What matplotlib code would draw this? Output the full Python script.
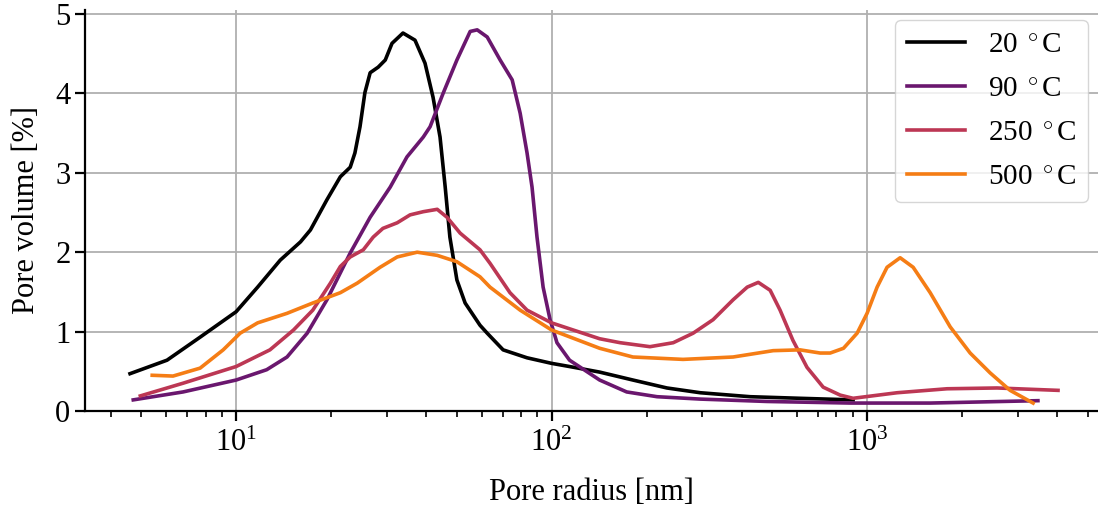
import matplotlib
matplotlib.use("Agg")
import matplotlib.pyplot as plt

plt.rcParams['font.family'] = ['Liberation Serif', 'DejaVu Serif']
plt.rcParams['mathtext.fontset'] = 'custom'
plt.rcParams['mathtext.rm'] = 'Liberation Serif'
plt.rcParams['mathtext.it'] = 'Liberation Serif:italic'
plt.rcParams['font.size'] = 22

# Pore size distributions (radius in nm, volume in %)
r_20 = [4.61, 6.04, 7.69, 10, 11.7, 13.8, 16.0, 17.2, 19.4, 21.4, 23.0, 23.8, 24.7,
        25.6, 26.6, 28.2, 29.7, 31.2, 33.8, 36.9, 39.7, 42.1, 44.3, 46.0, 47.6,
        50.1, 53.2, 59.3, 62.5, 70.2, 83.6, 100, 114, 142, 181, 232, 296, 426,
        613, 903]
v_20 = [0.47, 0.64, 0.93, 1.25, 1.56, 1.90, 2.13, 2.28, 2.66, 2.95, 3.07, 3.25, 3.58,
        4.01, 4.26, 4.33, 4.42, 4.63, 4.76, 4.67, 4.38, 3.95, 3.45, 2.82, 2.19,
        1.65, 1.36, 1.08, 0.98, 0.77, 0.67, 0.60, 0.56, 0.49, 0.39, 0.29, 0.23, 0.18,
        0.16, 0.14]

r_90 = [4.72, 6.79, 10, 12.5, 14.5, 16.8, 19.4, 21.4, 23.0, 26.6, 30.8, 34.8, 39.2,
        41.2, 45.3, 50.1, 55.2, 58.1, 62.5, 68.7, 75.0, 79.5, 83.6, 86.7, 89.9,
        94.0, 98.9, 104, 114, 142, 173, 216, 296, 482, 884, 1585, 3480]
v_90 = [0.14, 0.24, 0.39, 0.52, 0.68, 0.98, 1.40, 1.74, 1.99, 2.44, 2.82, 3.20, 3.45,
        3.58, 4.00, 4.42, 4.78, 4.80, 4.71, 4.42, 4.17, 3.75, 3.25, 2.82, 2.19,
        1.56, 1.15, 0.86, 0.64, 0.39, 0.24, 0.18, 0.15, 0.12, 0.10, 0.10, 0.13]

r_250 = [4.97, 6.79, 10, 12.8, 15.2, 17.5, 19.9, 21.4, 23.0, 25.3, 27.2, 29.2, 32.4,
         35.6, 39.2, 43.4, 46.6, 51.3, 59.3, 63.8, 73.8, 83.6, 100, 142, 165, 205,
         243, 281, 325, 376, 417, 452, 493, 530, 582, 645, 726, 822, 903, 1245,
         1793, 2582, 4030]
v_250 = [0.19, 0.35, 0.56, 0.77, 1.02, 1.27, 1.61, 1.82, 1.94, 2.03, 2.19, 2.30, 2.37,
         2.47, 2.51, 2.54, 2.44, 2.24, 2.03, 1.86, 1.49, 1.27, 1.11, 0.91, 0.86, 0.81,
         0.86, 0.98, 1.15, 1.40, 1.56, 1.62, 1.52, 1.27, 0.89, 0.55, 0.30, 0.20, 0.16,
         0.23, 0.28, 0.29, 0.26]

r_500 = [5.42, 6.31, 7.69, 9.1, 10.3, 11.7, 14.5, 17.5, 21.4, 24.2, 28.6, 32.4, 37.5,
         43.4, 50.1, 59.3, 63.8, 79.5, 100, 142, 181, 261, 376, 504, 613, 710, 764,
         842, 930, 1000, 1076, 1157, 1273, 1400, 1585, 1834, 2122, 2455, 2840, 3360]
v_500 = [0.45, 0.44, 0.54, 0.77, 0.98, 1.11, 1.23, 1.36, 1.49, 1.61, 1.81, 1.94, 2.00,
         1.96, 1.88, 1.69, 1.56, 1.27, 1.02, 0.79, 0.68, 0.65, 0.68, 0.76, 0.77, 0.73,
         0.73, 0.79, 0.98, 1.23, 1.56, 1.81, 1.93, 1.81, 1.49, 1.06, 0.73, 0.48, 0.26,
         0.10]

labels = ['20 $^\\circ$C', '90 $^\\circ$C', '250 $^\\circ$C', '500 $^\\circ$C']
colors = ['#000000', '#6a176e', '#bc3754', '#f57d15']

fig = plt.figure(figsize=(10.98, 5.09), dpi=100)
ax = fig.add_axes([85 / 1098, 1 - 411 / 509, 1 - 85 / 1098, (411 - 10) / 509])

for r, v, lab, c in zip([r_20, r_90, r_250, r_500], [v_20, v_90, v_250, v_500], labels, colors):
    ax.plot(r, v, color=c, lw=2.6, label=lab, solid_joinstyle='round')

ax.set_xscale('log')
ax.set_xlim(10 ** 0.521, 10 ** 3.732)
ax.set_ylim(0, 5.05)
ax.set_yticks([0, 1, 2, 3, 4, 5])
ax.grid(True, which='major', color='#b0b0b0', lw=1.3)
ax.set_axisbelow(True)
for s in ['top', 'right']:
    ax.spines[s].set_visible(False)
for s in ['left', 'bottom']:
    ax.spines[s].set_linewidth(1.6)
ax.tick_params(which='major', length=7, width=1.6)
ax.tick_params(which='minor', length=4, width=1.2)
ax.tick_params(axis='x', which='major', pad=6)

ax.set_xlabel('Pore radius [nm]', labelpad=14)
ax.set_ylabel('Pore volume [%]', labelpad=10)
ax.legend(loc='upper right', handlelength=2.0, fancybox=True, framealpha=0.8,
          borderaxespad=0.35, fontsize=21, labelspacing=0.6)

fig.savefig('out.png', dpi=100)
